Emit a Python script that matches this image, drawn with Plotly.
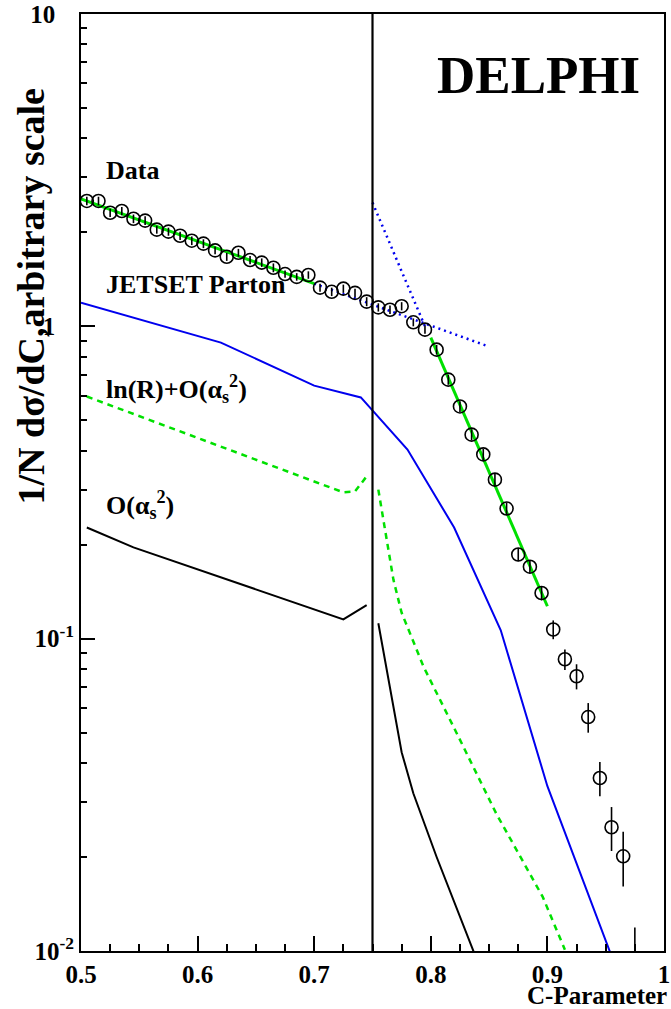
import plotly.graph_objects as go

# ---------------- data ----------------
c_bins = [0.505, 0.515, 0.525, 0.535, 0.545, 0.555, 0.565, 0.575, 0.585, 0.595,
          0.605, 0.615, 0.625, 0.635, 0.645, 0.655, 0.665, 0.675, 0.685, 0.695,
          0.705, 0.715, 0.725, 0.735, 0.745, 0.755, 0.765, 0.775, 0.785, 0.795,
          0.805, 0.815, 0.825, 0.835, 0.845, 0.855, 0.865, 0.875, 0.885, 0.895,
          0.905, 0.915, 0.925, 0.935, 0.945, 0.955, 0.965, 0.975]
data_vals = [2.52, 2.52, 2.31, 2.34, 2.21, 2.18, 2.04, 2.01, 1.95, 1.88,
             1.84, 1.75, 1.67, 1.72, 1.63, 1.60, 1.54, 1.47, 1.44, 1.46,
             1.33, 1.29, 1.32, 1.28, 1.20, 1.15, 1.13, 1.16, 1.03, 0.976,
             0.842, 0.675, 0.554, 0.450, 0.389, 0.323, 0.261, 0.186, 0.170, 0.140,
             0.107, 0.0859, 0.0758, 0.0561, 0.0358, 0.0249, 0.0201, 0.0085]
data_errs = [0.08, 0.08, 0.07, 0.07, 0.07, 0.07, 0.06, 0.06, 0.06, 0.06,
             0.06, 0.05, 0.05, 0.05, 0.05, 0.05, 0.05, 0.04, 0.04, 0.04,
             0.04, 0.04, 0.04, 0.04, 0.04, 0.035, 0.035, 0.035, 0.03, 0.03,
             0.03, 0.025, 0.022, 0.018, 0.016, 0.014, 0.012, 0.009, 0.008, 0.0074,
             0.0074, 0.0065, 0.0070, 0.0061, 0.0045, 0.0040, 0.0040, 0.0034]

fit_low_x = [0.50, 0.70]
fit_low_y = [2.56, 1.37]
fit_high_x = [0.80, 0.90]
fit_high_y = [0.92, 0.127]
dot_shallow_x = [0.70, 0.85]
dot_shallow_y = [1.37, 0.861]
dot_steep_x = [0.75, 0.795]
dot_steep_y = [2.49, 1.0]

jetset_x = [0.50, 0.62, 0.70, 0.74, 0.78, 0.82, 0.86, 0.90, 0.96]
jetset_y = [1.19, 0.887, 0.646, 0.592, 0.403, 0.227, 0.1064, 0.0337, 0.0086]

lnr_x1 = [0.505, 0.725, 0.735, 0.745]
lnr_y1 = [0.596, 0.294, 0.296, 0.331]
lnr_x2 = [0.755, 0.762, 0.768, 0.775, 0.794, 0.822, 0.856, 0.896, 0.915]
lnr_y2 = [0.300, 0.206, 0.154, 0.121, 0.081, 0.050, 0.0276, 0.0149, 0.0101]

oas_x1 = [0.505, 0.545, 0.725, 0.745]
oas_y1 = [0.227, 0.196, 0.1153, 0.128]
oas_x2 = [0.755, 0.775, 0.785, 0.805, 0.845]
oas_y2 = [0.112, 0.0433, 0.0320, 0.0200, 0.0083]

NB = "\u00a0"
y_tickvals = [0.01, 0.1, 1, 10]
y_ticktext = ["10<sup>-2</sup>", "10<sup>-1</sup>", "1" + NB * 3, "10" + NB * 3]
x_tickvals = [0.5, 0.6, 0.7, 0.8, 0.9, 1.0]
x_ticktext = ["0.5", "0.6", "0.7", "0.8", "0.9", "1"]

# ---------------- styles ----------------
SERIF = "Liberation Serif"
BLUE = "#0000ee"
GREEN = "#00e000"

fig = go.Figure()

def line(x, y, color, width, dash="solid"):
    fig.add_trace(go.Scatter(x=x, y=y, mode="lines", showlegend=False,
                             line=dict(color=color, width=width, dash=dash),
                             hoverinfo="skip"))

line(jetset_x, jetset_y, BLUE, 2)
line(lnr_x1, lnr_y1, GREEN, 2.5, "6px,5px")
line(lnr_x2, lnr_y2, GREEN, 2.5, "6px,5px")
line(oas_x1, oas_y1, "black", 2)
line(oas_x2, oas_y2, "black", 2)
line(fit_low_x, fit_low_y, GREEN, 3)
line(fit_high_x, fit_high_y, GREEN, 3)
line(dot_shallow_x, dot_shallow_y, BLUE, 2.5, "2px,4px")
line(dot_steep_x, dot_steep_y, BLUE, 2.5, "2px,4px")

fig.add_trace(go.Scatter(
    x=c_bins, y=data_vals, mode="markers", showlegend=False,
    marker=dict(symbol="circle-open", size=13, color="black", line=dict(width=1.6, color="black")),
    error_y=dict(type="data", array=data_errs, visible=True, color="black", thickness=1.6, width=0),
))

fig.add_shape(type="line", x0=0.75, x1=0.75, xref="x", y0=0, y1=1, yref="paper",
              line=dict(color="black", width=2.2))

def label(text, x, y, size, xanchor="left", textangle=0):
    fig.add_annotation(text=text, x=x, y=y, xref="paper", yref="paper", showarrow=False,
                       xanchor=xanchor, yanchor="middle", textangle=textangle,
                       font=dict(family=SERIF, size=size, color="black", weight="bold"))

label("DELPHI", 0.785, 0.935, 53, xanchor="center")
label("Data", 0.039, 0.8326, 26)
label("JETSET Parton", 0.039, 0.711, 26)
label("ln(R)+O(α<sub>s</sub><sup>2</sup>)", 0.039, 0.600, 26)
label("O(α<sub>s</sub><sup>2</sup>)", 0.039, 0.4755, 26)
label("C-Parameter", 1.008, -0.0475, 25, xanchor="right")
label("1/N dσ/dC,arbitrary scale", -0.0866, 0.698, 38, xanchor="center", textangle=-90)

fig.update_layout(
    width=671, height=1009,
    margin=dict(l=81, r=1, t=13, b=58),
    paper_bgcolor="white", plot_bgcolor="white",
    showlegend=False,
    xaxis=dict(range=[0.5, 1.0], showgrid=False, zeroline=False,
               showline=True, mirror=True, linecolor="black", linewidth=2,
               ticks="inside", ticklen=15, tickwidth=1.5, tickcolor="black",
               tickvals=x_tickvals, ticktext=x_ticktext, ticklabeloverflow="allow",
               tickfont=dict(family=SERIF, size=25, color="black", weight="bold"),
               minor=dict(ticks="inside", ticklen=7, tickwidth=1.5, tickcolor="black",
                          dtick=0.025, tick0=0.5, showgrid=False)),
    yaxis=dict(type="log", range=[-2, 1], showgrid=False, zeroline=False,
               showline=True, mirror=True, linecolor="black", linewidth=2,
               ticks="inside", ticklen=14, tickwidth=1.5, tickcolor="black",
               tickvals=y_tickvals, ticktext=y_ticktext, ticklabeloverflow="allow",
               tickfont=dict(family=SERIF, size=25, color="black", weight="bold"),
               minor=dict(ticks="inside", ticklen=6, tickwidth=1.5, tickcolor="black",
                          dtick="D1", showgrid=False)),
)

fig.write_html("out.html", config={"displayModeBar": False},
               post_script="document.body.style.margin='0px';")
